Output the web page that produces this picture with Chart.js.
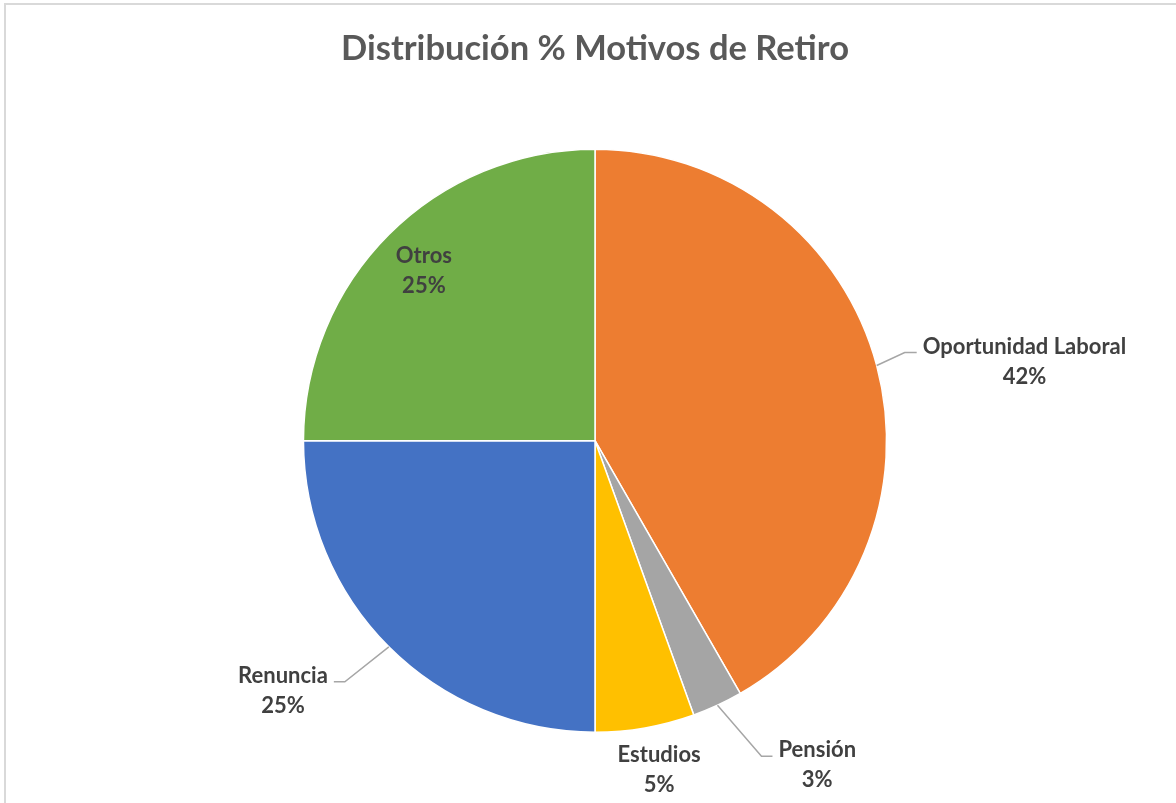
<!DOCTYPE html>
<html lang="es">
<head>
<meta charset="utf-8">
<title>Distribución % Motivos de Retiro</title>
<script src="https://cdn.jsdelivr.net/npm/chart.js@4.4.1/dist/chart.umd.min.js"></script>
<style>
  html, body { margin: 0; padding: 0; background: #fff; overflow: hidden; }
  #wrap { position: relative; width: 1176px; height: 803px; }
  #marco { position: absolute; left: 4px; top: 3px; width: 1300px; height: 900px;
           border-left: 2px solid #d9d9d9; border-top: 2px solid #d9d9d9; }
  canvas { position: absolute; left: 0; top: 0; }
</style>
</head>
<body>
<div id="wrap">
  <div id="marco"></div>
  <canvas id="grafico" width="1176" height="803"></canvas>
</div>
<script>
const motivos = ['Oportunidad Laboral', 'Pensión', 'Estudios', 'Renuncia', 'Otros'];
const porcentajes = [41.7, 2.8, 5.5, 25, 25];
const etiquetasPct = ['42%', '3%', '5%', '25%', '25%'];
const colores = ['#ED7D31', '#A5A5A5', '#FFC000', '#4472C4', '#70AD47'];

// donde va cada etiqueta (lo que Excel dejo con "ajuste perfecto")
const ubicacion = [
  { tipo: 'fuera', codo: [28, -13], fin: 12 },
  { tipo: 'fuera', codo: [44, 51], fin: 11 },
  { tipo: 'abajo', dx: 14, dy: 27 },
  { tipo: 'fuera', codo: [-44, 35], fin: -11 },
  { tipo: 'dentro', r: 0.83 }
];

const etiquetasPlugin = {
  id: 'etiquetas',
  afterDatasetsDraw(chart) {
    const ctx = chart.ctx;
    const arcos = chart.getDatasetMeta(0).data;
    const alto = 30;
    ctx.save();
    ctx.font = 'bold 22px Lato';
    ctx.fillStyle = '#404040';
    ctx.textAlign = 'center';
    ctx.textBaseline = 'middle';
    ctx.strokeStyle = '#a6a6a6';
    ctx.lineWidth = 1.5;
    arcos.forEach((arco, i) => {
      const { x, y, startAngle, endAngle, outerRadius } =
        arco.getProps(['x', 'y', 'startAngle', 'endAngle', 'outerRadius'], true);
      const medio = (startAngle + endAngle) / 2;
      const ex = x + Math.cos(medio) * outerRadius;
      const ey = y + Math.sin(medio) * outerRadius;
      const u = ubicacion[i];
      const lineas = [motivos[i], etiquetasPct[i]];
      let cx, cy; // centro de la primera linea
      if (u.tipo === 'dentro') {
        cx = x + Math.cos(medio) * outerRadius * u.r;
        cy = y + Math.sin(medio) * outerRadius * u.r - alto / 2 + 1;
      } else if (u.tipo === 'abajo') {
        cx = ex + u.dx;
        cy = ey + u.dy;
      } else {
        const bx = ex + u.codo[0], by = ey + u.codo[1];
        const fx = bx + u.fin;
        ctx.beginPath();
        ctx.moveTo(ex, ey);
        ctx.lineTo(bx, by);
        ctx.lineTo(fx, by);
        ctx.stroke();
        const w = Math.max(...lineas.map(t => ctx.measureText(t).width));
        cx = u.fin > 0 ? fx + 6 + w / 2 : fx - 6 - w / 2;
        cy = by - 6;
      }
      lineas.forEach((t, k) => ctx.fillText(t, cx, cy + k * alto));
    });
    ctx.restore();
  }
};

new Chart(document.getElementById('grafico'), {
  type: 'pie',
  data: {
    labels: motivos,
    datasets: [{
      data: porcentajes,
      backgroundColor: colores,
      borderColor: '#ffffff',
      borderWidth: 1.5
    }]
  },
  options: {
    responsive: false,
    animation: false,
    layout: { padding: { top: 10, left: 14, right: 0, bottom: 70 } },
    plugins: {
      legend: { display: false },
      tooltip: { enabled: false },
      title: {
        display: true,
        text: 'Distribución % Motivos de Retiro',
        color: '#595959',
        font: { family: 'Lato', size: 34.5, weight: 'bold', lineHeight: 1.2 },
        padding: { top: 18, bottom: 79 }
      }
    }
  },
  plugins: [etiquetasPlugin]
});
</script>
</body>
</html>
